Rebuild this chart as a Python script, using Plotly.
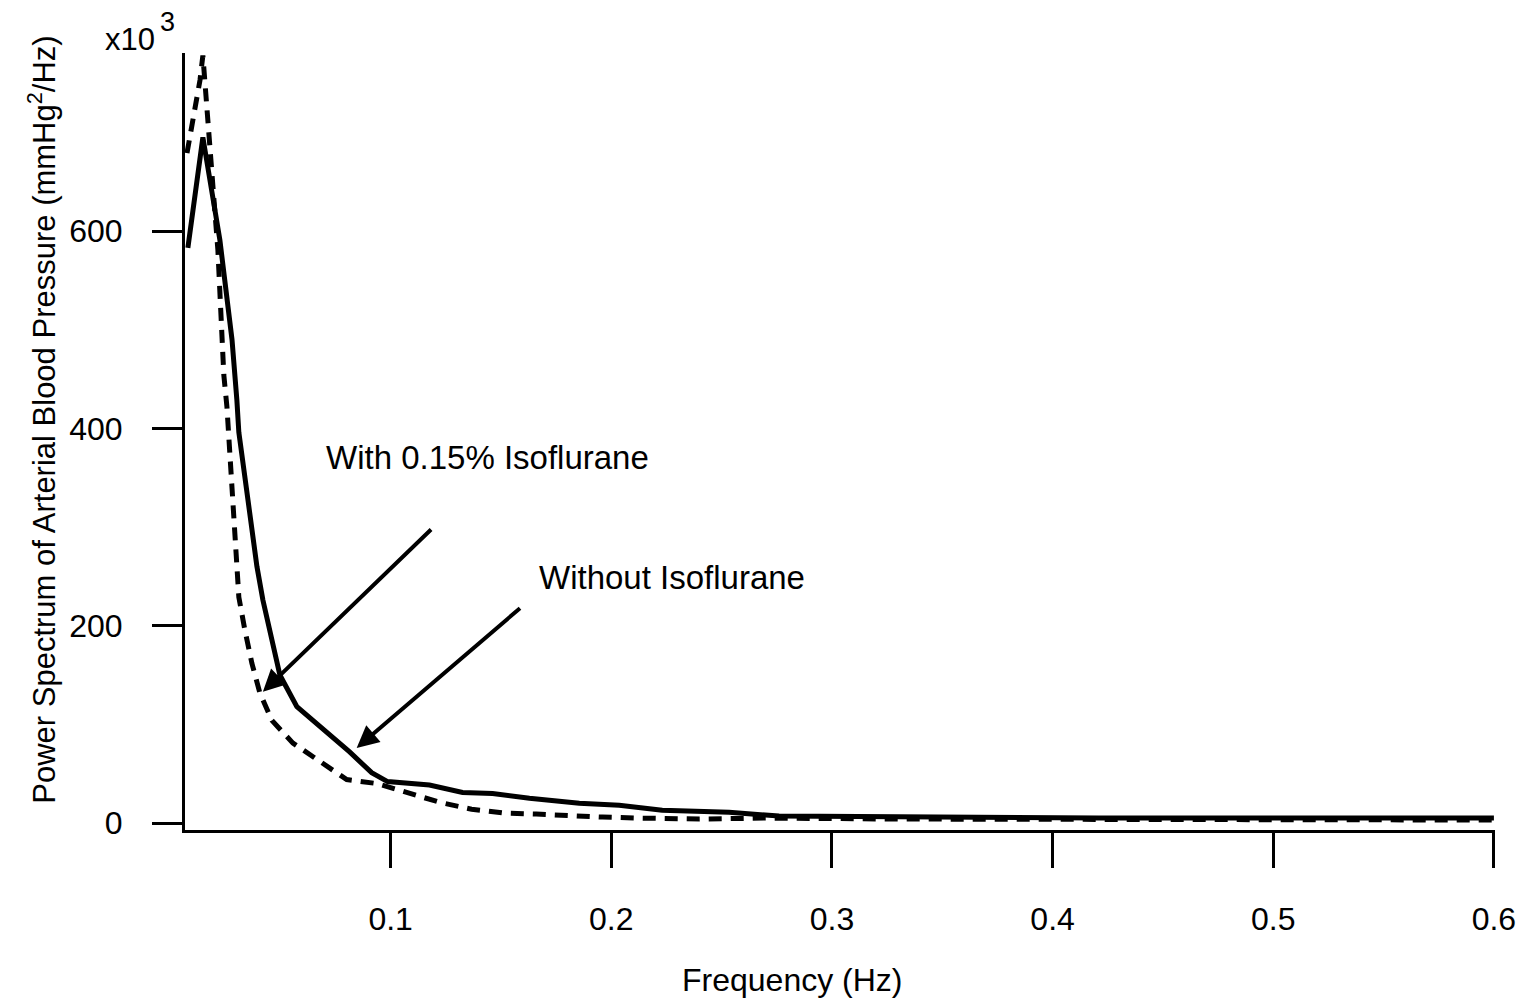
import plotly.graph_objects as go

# Without Isoflurane (solid)
freq_without = [0.0081, 0.0149, 0.0226, 0.0281, 0.0303, 0.0312, 0.0353, 0.0394, 0.0421,
                0.0498, 0.0575, 0.0665, 0.0814, 0.0914, 0.0986, 0.1176, 0.1326, 0.1462,
                0.1629, 0.1855, 0.2036, 0.2231, 0.2534, 0.276, 0.33, 0.421, 0.6]
power_without = [583, 695, 591, 490, 429, 396, 328, 260, 226,
                 150, 118, 101, 72, 51, 42, 38.5, 31, 30,
                 25, 20, 18, 13, 11, 7, 6, 5, 5]

# With 0.15% Isoflurane (dashed)
freq_with = [0.0077, 0.0113, 0.0136, 0.0149, 0.0167, 0.0181, 0.0204, 0.0217, 0.0235,
             0.0244, 0.0258, 0.0267, 0.0276, 0.0285, 0.0299, 0.0303, 0.0312, 0.0339,
             0.0371, 0.0407, 0.0462, 0.0557, 0.0679, 0.0801, 0.0937, 0.1086, 0.1222,
             0.1367, 0.1516, 0.166, 0.181, 0.196, 0.211, 0.24, 0.27, 0.33, 0.6]
power_with = [679, 723, 753, 778, 720, 685, 618, 581, 497,
              454, 422, 390, 356, 324, 292, 260, 229, 196,
              162, 132, 104, 81, 62, 44, 40, 30, 21,
              14, 10, 9, 7, 6, 5, 4, 5, 4, 3]

x_ticks = [0.1, 0.2, 0.3, 0.4, 0.5, 0.6]
y_ticks = [0, 200, 400, 600]

FONT = "Arial, Liberation Sans, Helvetica, sans-serif"

fig = go.Figure()
fig.add_trace(go.Scatter(x=freq_with, y=power_with, mode="lines",
                         line=dict(color="black", width=5, dash="13px,9px"),
                         name="With 0.15% Isoflurane", showlegend=False))
fig.add_trace(go.Scatter(x=freq_without, y=power_without, mode="lines",
                         line=dict(color="black", width=5),
                         name="Without Isoflurane", showlegend=False))

fig.update_layout(
    width=1528, height=1001,
    margin=dict(l=185, r=31, t=53, b=171),
    paper_bgcolor="white", plot_bgcolor="white",
    font=dict(family=FONT, size=32, color="black"),
    xaxis=dict(range=[0.0068, 0.6005], tickvals=x_ticks,
               ticktext=[str(v) for v in x_ticks],
               showline=True, linecolor="black", linewidth=3,
               ticks="outside", ticklen=35, tickwidth=3, tickcolor="black",
               showgrid=False, zeroline=False, ticklabelstandoff=24),
    yaxis=dict(range=[-7.1, 780.5], tickvals=y_ticks,
               ticktext=[str(v) for v in y_ticks],
               showline=True, linecolor="black", linewidth=3,
               ticks="outside", ticklen=30, tickwidth=3, tickcolor="black",
               showgrid=False, zeroline=False, ticklabelstandoff=23),
)

annotations = [
    dict(text="Power Spectrum of Arterial Blood Pressure (mmHg<sup>2</sup>/Hz)",
         xref="paper", yref="paper", x=0, y=0.528, xanchor="center", yanchor="middle",
         xshift=-143, textangle=-90, showarrow=False, font=dict(size=31)),
    dict(text="x10", xref="paper", yref="paper", x=0, y=1,
         xanchor="center", yanchor="middle", xshift=-55, yshift=14,
         showarrow=False, font=dict(size=31)),
    dict(text="3", xref="paper", yref="paper", x=0, y=1,
         xanchor="center", yanchor="middle", xshift=-18, yshift=31,
         showarrow=False, font=dict(size=27)),
    dict(text="Frequency (Hz)", xref="paper", yref="paper", x=0, y=0,
         xanchor="center", yanchor="middle", xshift=792 - 185, yshift=-150,
         showarrow=False, font=dict(size=32)),
    dict(text="With 0.15% Isoflurane", xref="x", yref="y", x=0.144, y=370,
         xanchor="center", yanchor="middle", showarrow=False, font=dict(size=33)),
    dict(text="Without Isoflurane", xref="x", yref="y", x=0.2275, y=249,
         xanchor="center", yanchor="middle", showarrow=False, font=dict(size=33)),
    dict(text="", xref="x", yref="y", x=0.0421, y=133, axref="x", ayref="y",
         ax=0.119, ay=299, showarrow=True, arrowhead=2, arrowsize=1.1,
         arrowwidth=4, arrowcolor="black"),
    dict(text="", xref="x", yref="y", x=0.0846, y=76, axref="x", ayref="y",
         ax=0.1593, ay=219, showarrow=True, arrowhead=2, arrowsize=1.1,
         arrowwidth=4, arrowcolor="black"),
]
fig.update_layout(annotations=annotations)

fig.write_html("out.html")
